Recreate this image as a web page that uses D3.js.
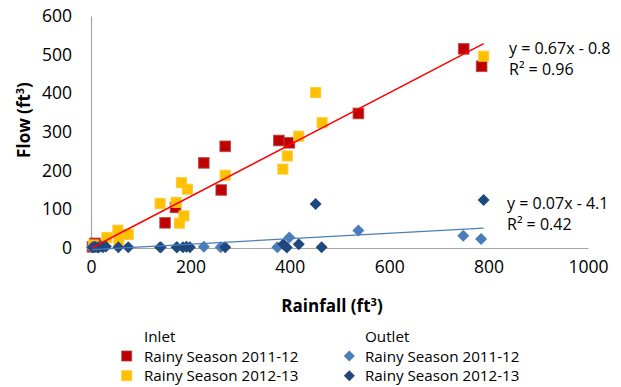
<!DOCTYPE html>
<html>
<head>
<meta charset="utf-8">
<script src="https://cdn.jsdelivr.net/npm/d3@7"></script>
<style>
  html, body { margin: 0; padding: 0; background: #fff; }
  svg { display: block; font-family: "Open Sans", "Liberation Sans", sans-serif; }
</style>
</head>
<body>
<svg id="chart" width="621" height="387"></svg>
<script>
// Rainfall vs. flow volume, inlet and outlet, two rainy seasons
const xTicks = [0, 200, 400, 600, 800, 1000];
const yTicks = [0, 100, 200, 300, 400, 500, 600];

const inlet1112Rain = [3, 8, 18, 149, 170, 227, 262, 270, 378, 399, 538, 750, 786];
const inlet1112Flow = [3, 12, 6, 65, 105, 220, 150, 263, 278, 272, 348, 515, 470];

const inlet1213Rain = [5, 32, 54, 56, 75, 139, 171, 178, 182, 187, 194, 270, 386, 395, 418, 452, 465, 790];
const inlet1213Flow = [8, 27, 46, 21, 35, 115, 118, 64, 169, 83, 152, 188, 204, 238, 289, 402, 324, 496];

const outlet1112Rain = [2, 6, 12, 20, 141, 172, 227, 261, 375, 399, 538, 749, 785];
const outlet1112Flow = [1, 3, 2, 4, 2, 2, 3, 2, 2, 27, 45, 32, 23];

const outlet1213Rain = [4, 8, 15, 24, 30, 55, 75, 139, 173, 185, 192, 199, 270, 387, 394, 418, 452, 464, 790];
const outlet1213Flow = [2, 3, 1, 2, 4, 2, 2, 2, 2, 2, 3, 2, 2, 10, 1, 10, 114, 2, 124];

// Linear fits shown on the chart
const inletFit = { slope: 0.67, intercept: -0.8, label: "y = 0.67x - 0.8", r2: "R² = 0.96" };
const outletFit = { slope: 0.07, intercept: -4.1, label: "y = 0.07x - 4.1", r2: "R² = 0.42" };

const svg = d3.select("#chart");
const x = d3.scaleLinear().domain([0, 1000]).range([91, 588]);
const y = d3.scaleLinear().domain([0, 600]).range([248, 16]);

const axisColor = "#a6a6a6";
const textColor = "#000";

// Axes
const xAxis = svg.append("g").attr("transform", `translate(0,${y(0)})`)
  .call(d3.axisBottom(x).tickValues(xTicks).tickFormat(d3.format("d")).tickSize(0).tickPadding(13));
const yAxis = svg.append("g").attr("transform", `translate(${x(0)},0)`)
  .call(d3.axisLeft(y).tickValues(yTicks).tickFormat(d3.format("d")).tickSize(0).tickPadding(19));
[xAxis, yAxis].forEach(g => {
  g.select(".domain").attr("stroke", axisColor).attr("stroke-width", 1.2);
  g.selectAll("text").attr("font-size", 17.5).attr("fill", textColor)
    .attr("font-family", "'Open Sans', sans-serif");
});

// Axis titles
svg.append("text")
  .attr("transform", "translate(30,120) rotate(-90)")
  .attr("text-anchor", "middle")
  .attr("font-size", 17).attr("font-weight", "bold")
  .html('Flow (ft<tspan dy="-6" font-size="11">3</tspan><tspan dy="6">)</tspan>');
svg.append("text")
  .attr("x", 332).attr("y", 312)
  .attr("text-anchor", "middle")
  .attr("font-size", 17).attr("font-weight", "bold")
  .html('Rainfall (ft<tspan dy="-6" font-size="11">3</tspan><tspan dy="6">)</tspan>');

const zip = (a, b) => a.map((v, i) => [v, b[i]]);

function squares(data, fill, stroke, size) {
  svg.append("g").selectAll("rect").data(data).join("rect")
    .attr("x", d => x(d[0]) - size / 2)
    .attr("y", d => y(d[1]) - size / 2)
    .attr("width", size).attr("height", size)
    .attr("fill", fill).attr("stroke", stroke).attr("stroke-width", 1.2);
}
function diamonds(data, fill, size) {
  const r = size / 2;
  svg.append("g").selectAll("path").data(data).join("path")
    .attr("d", d => {
      const cx = x(d[0]), cy = y(d[1]);
      return `M${cx},${cy - r}L${cx + r},${cy}L${cx},${cy + r}L${cx - r},${cy}Z`;
    })
    .attr("fill", fill);
}

squares(zip(inlet1112Rain, inlet1112Flow), "#c00000", "rgba(176,60,60,0.75)", 10.5);
squares(zip(inlet1213Rain, inlet1213Flow), "#ffc000", "rgba(255,200,40,0.8)", 10);
diamonds(zip(outlet1112Rain, outlet1112Flow), "#4a7ebb", 12);
diamonds(zip(outlet1213Rain, outlet1213Flow), "#1f497d", 12);

// Trend lines across the data range
function trend(fit, xs, color, w) {
  const lo = d3.min(xs), hi = d3.max(xs);
  svg.append("line")
    .attr("x1", x(lo)).attr("y1", y(fit.slope * lo + fit.intercept))
    .attr("x2", x(hi)).attr("y2", y(fit.slope * hi + fit.intercept))
    .attr("stroke", color).attr("stroke-width", w);
}
trend(inletFit, inlet1112Rain.concat(inlet1213Rain), "#ff0000", 1.5);
trend(outletFit, outlet1112Rain.concat(outlet1213Rain), "#4a7ebb", 1.3);

// Fit equations
function eq(fit, px, py) {
  const t = svg.append("text").attr("font-size", 16).attr("fill", textColor);
  t.append("tspan").attr("x", px).attr("y", py).text(fit.label);
  t.append("tspan").attr("x", px).attr("y", py + 21).text(fit.r2);
}
eq(inletFit, 509, 54);
eq(outletFit, 507, 209);

// Legend
const legend = svg.append("g").attr("font-size", 15.2).attr("fill", textColor);
legend.append("text").attr("x", 144).attr("y", 342).text("Inlet");
legend.append("text").attr("x", 365).attr("y", 342).text("Outlet");
const rows = [
  { label: "Rainy Season 2011-12", col: 0, row: 0, kind: "sq", fill: "#c00000", stroke: "rgba(176,60,60,0.75)" },
  { label: "Rainy Season 2012-13", col: 0, row: 1, kind: "sq", fill: "#ffc000", stroke: "rgba(255,200,40,0.8)" },
  { label: "Rainy Season 2011-12", col: 1, row: 0, kind: "di", fill: "#4a7ebb" },
  { label: "Rainy Season 2012-13", col: 1, row: 1, kind: "di", fill: "#1f497d" }
];
rows.forEach(r => {
  const mx = r.col === 0 ? 126.7 : 349.3;
  const tx = r.col === 0 ? 144 : 365;
  const cy = 356 + r.row * 19.7;
  if (r.kind === "sq") {
    legend.append("rect").attr("x", mx - 5).attr("y", cy - 5).attr("width", 10).attr("height", 10)
      .attr("fill", r.fill).attr("stroke", r.stroke).attr("stroke-width", 1);
  } else {
    legend.append("path")
      .attr("d", `M${mx},${cy - 5.5}L${mx + 5.5},${cy}L${mx},${cy + 5.5}L${mx - 5.5},${cy}Z`)
      .attr("fill", r.fill);
  }
  legend.append("text").attr("x", tx).attr("y", cy + 5.5).text(r.label);
});
</script>
</body>
</html>
